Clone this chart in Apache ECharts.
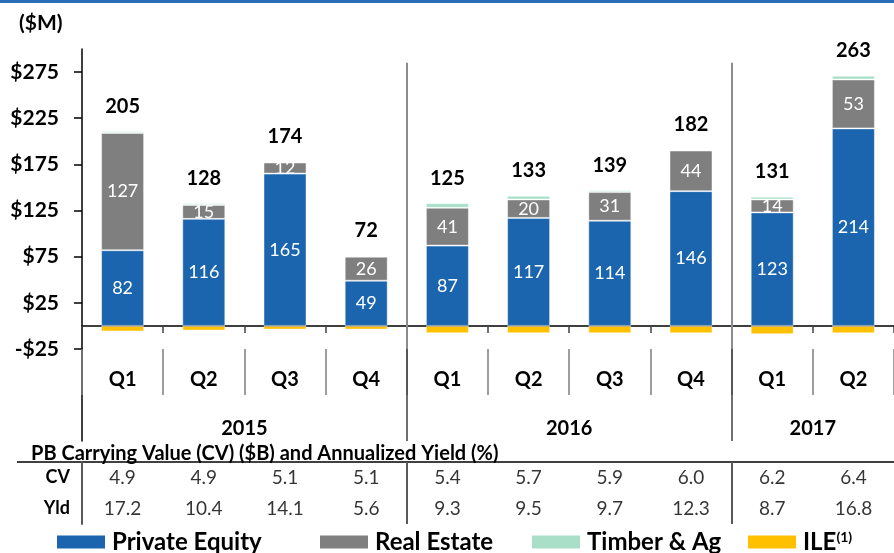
<!DOCTYPE html>
<html>
<head>
<meta charset="utf-8">
<style>
  html, body { margin: 0; padding: 0; background: #fff; }
  #chart { width: 894px; height: 553px; }
</style>
<script src="https://cdn.jsdelivr.net/npm/echarts@6/dist/echarts.min.js"></script>
</head>
<body>
<div id="chart"></div>
<script>
// ── data ──────────────────────────────────────────────────────────────────
const QUARTERS = ['Q1', 'Q2', 'Q3', 'Q4', 'Q1', 'Q2', 'Q3', 'Q4', 'Q1', 'Q2'];
const YEARS = ['2015', '2016', '2017'];
const YEAR_SPANS = [4, 4, 2];               // quarters per year group

const PRIVATE_EQUITY = [82, 116, 165, 49, 87, 117, 114, 146, 123, 214];
const REAL_ESTATE    = [127, 15, 12, 26, 41, 20, 31, 44, 14, 53];
const TIMBER_AG      = [2, 2, 1, 1, 5, 4, 2, 0, 3, 4];
const ILE            = [-6, -5, -4, -4, -8, -8, -8, -8, -9, -8];
const TOTALS         = [205, 128, 174, 72, 125, 133, 139, 182, 131, 263];

const CV_ROW  = [4.9, 4.9, 5.1, 5.1, 5.4, 5.7, 5.9, 6.0, 6.2, 6.4];
const YLD_ROW = [17.2, 10.4, 14.1, 5.6, 9.3, 9.5, 9.7, 12.3, 8.7, 16.8];
const TABLE_ROWS = ['CV', 'Yld'];

const Y_TICKS = [-25, 25, 75, 125, 175, 225, 275];

// ── derived helpers ───────────────────────────────────────────────────────
const GROUP_EDGES = [];   // boundaries between year groups (in category units)
const YEAR_CENTERS = [];
let acc = 0;
YEAR_SPANS.forEach((n, i) => {
  YEAR_CENTERS.push(acc + n / 2);
  acc += n;
  if (i < YEAR_SPANS.length - 1) GROUP_EDGES.push(acc);
});

const FONT = 'Lato, "Open Sans", sans-serif';
const C_PE = '#1a65ae';
const C_RE = '#7f7f7f';
const C_TA = '#a9dfc8';
const C_ILE = '#ffc000';
const C_SEP = '#8c8c8c';

const chart = echarts.init(document.getElementById('chart'), null, { renderer: 'canvas' });

const barBase = {
  type: 'bar',
  stack: 'total',
  xAxisIndex: 0,
  yAxisIndex: 0,
  barWidth: 43,
  itemStyle: { borderColor: 'rgba(255,255,255,0.45)', borderWidth: 1 },
};
const segLabel = {
  show: true, position: 'inside', color: '#fff',
  fontFamily: FONT, fontSize: 18,
  formatter: p => p.value,
};

function rowSeries(name, vals, rowIdx) {
  return {
    name, type: 'scatter', xAxisIndex: 4, yAxisIndex: 2,
    symbolSize: 1, itemStyle: { color: 'rgba(0,0,0,0)' },
    silent: true,
    data: vals.map((v, i) => [i, rowIdx, v]),
    label: {
      show: true, position: 'inside', color: '#000',
      fontFamily: FONT, fontSize: 19,
      formatter: p => p.value[2].toFixed(1),
    },
  };
}

function legendAt(name, left, label) {
  return {
    data: [name], left, top: 525,
    icon: 'rect', itemWidth: 48, itemHeight: 13,
    itemStyle: { borderWidth: 0 },
    selectedMode: false,
    textStyle: {
      fontFamily: FONT, fontSize: 24, fontWeight: 'bold', color: '#000',
      padding: [0, 0, 0, 2],
      rich: { sup: { fontFamily: FONT, fontSize: 14, fontWeight: 'bold', verticalAlign: 'top', color: '#000' } },
    },
    formatter: () => label,
  };
}

const option = {
  animation: false,
  backgroundColor: '#fff',
  textStyle: { fontFamily: FONT },
  title: [
    { text: '($M)', left: 14, top: 8,
      textStyle: { fontFamily: FONT, fontSize: 21, fontWeight: 'bold', color: '#000' } },
    { text: 'PB Carrying Value (CV) ($B) and Annualized Yield (%)', left: 26, top: 439,
      textStyle: { fontFamily: FONT, fontSize: 20, fontWeight: 'bold', color: '#000' } },
  ],
  legend: [
    legendAt('Private Equity', 52, 'Private Equity'),
    legendAt('Real Estate', 315, 'Real Estate'),
    legendAt('Timber & Ag', 527, 'Timber & Ag'),
    legendAt('ILE', 743, 'ILE{sup|(1)}'),
  ],
  graphic: [
    { type: 'rect', left: 0, top: 0, shape: { width: 894, height: 3 }, style: { fill: '#2a6cb6' } },
    { type: 'line', shape: { x1: 17, y1: 462, x2: 894, y2: 462 }, style: { stroke: '#000', lineWidth: 1.5 } },
  ],
  grid: [
    { left: 82, right: 0, top: 49, height: 300 },   // bars
    { left: 82, right: 0, top: 349, height: 92 },   // quarter / year labels
    { left: 82, right: 0, top: 462, height: 62 },   // CV / Yld table
  ],
  xAxis: [
    { // 0: bar categories, sits on zero
      type: 'category', gridIndex: 0, data: QUARTERS,
      axisLine: { onZero: true, lineStyle: { color: '#000', width: 1.5 } },
      axisTick: { show: true, interval: 0, length: 7, lineStyle: { color: '#404040', width: 1.5 } },
      axisLabel: { interval: 0, margin: 21, color: '#000', fontFamily: FONT, fontSize: 20, fontWeight: 'bold' },
    },
    { // 1: hidden linear axis for year separators in the plot
      type: 'value', gridIndex: 0, min: 0, max: QUARTERS.length, show: false,
    },
    { // 2: quarter separators
      type: 'category', gridIndex: 1, data: QUARTERS, position: 'top',
      axisLine: { show: false, onZero: false },
      axisTick: { show: true, inside: true, interval: 0, length: 46, lineStyle: { color: '#7f7f7f', width: 1.5 } },
      axisLabel: { show: false },
    },
    { // 3: year labels + year separators
      type: 'value', gridIndex: 1, min: 0, max: QUARTERS.length, position: 'bottom',
      axisLine: { show: false, onZero: false },
      splitLine: { show: false },
      axisTick: { show: true, inside: true, length: 92, customValues: GROUP_EDGES,
                  lineStyle: { color: '#404040', width: 1.5 } },
      axisLabel: { show: true, inside: true, margin: 2, customValues: YEAR_CENTERS,
                   formatter: v => YEARS[YEAR_CENTERS.indexOf(v)],
                   color: '#000', fontFamily: FONT, fontSize: 20, fontWeight: 'bold' },
    },
    { // 4: table columns
      type: 'category', gridIndex: 2, data: QUARTERS, show: false,
    },
    { // 5: table year separators
      type: 'value', gridIndex: 2, min: 0, max: QUARTERS.length, position: 'top',
      axisLine: { show: false, onZero: false },
      splitLine: { show: false },
      axisTick: { show: true, inside: true, length: 62, customValues: GROUP_EDGES,
                  lineStyle: { color: '#595959', width: 2 } },
      axisLabel: { show: false },
    },
  ],
  yAxis: [
    {
      type: 'value', gridIndex: 0, min: -25, max: 300,
      axisLine: { show: true, lineStyle: { color: '#000', width: 1.5 } },
      axisTick: { show: true, length: 8, customValues: Y_TICKS, lineStyle: { color: '#000', width: 1.5 } },
      axisLabel: {
        customValues: Y_TICKS, margin: 23, color: '#000',
        fontFamily: FONT, fontSize: 21, fontWeight: 'bold',
        formatter: v => (v < 0 ? '-$' + Math.abs(v) : '$' + v),
      },
      splitLine: { show: false },
    },
    {
      type: 'value', gridIndex: 1, min: 0, max: 1,
      axisLine: { show: true, onZero: false, lineStyle: { color: '#000', width: 1.5 } },
      axisTick: { show: false }, axisLabel: { show: false }, splitLine: { show: false },
    },
    {
      type: 'category', gridIndex: 2, data: TABLE_ROWS, inverse: true,
      axisLine: { show: true, onZero: false, lineStyle: { color: '#595959', width: 2 } },
      axisTick: { show: false },
      axisLabel: { margin: 12, color: '#000', fontFamily: FONT, fontSize: 18, fontWeight: 'bold' },
      splitLine: { show: false },
    },
  ],
  series: [
    Object.assign({}, barBase, {
      name: 'Private Equity', data: PRIVATE_EQUITY, color: C_PE, label: segLabel,
    }),
    Object.assign({}, barBase, {
      name: 'Real Estate', data: REAL_ESTATE, color: C_RE, label: segLabel,
    }),
    Object.assign({}, barBase, {
      name: 'Timber & Ag', data: TIMBER_AG, color: C_TA,
      label: {
        show: true, position: 'top', distance: 15, color: '#000',
        fontFamily: FONT, fontSize: 20, fontWeight: 'bold',
        formatter: p => TOTALS[p.dataIndex],
      },
    }),
    Object.assign({}, barBase, {
      name: 'ILE', data: ILE, color: C_ILE,
    }),
    {
      name: 'year-separators', type: 'line', xAxisIndex: 1, yAxisIndex: 0,
      data: [], silent: true,
      markLine: {
        silent: true, symbol: ['none', 'none'],
        label: { show: false },
        lineStyle: { color: C_SEP, width: 2, type: 'solid' },
        data: GROUP_EDGES.map(e => [{ coord: [e, 285] }, { coord: [e, -25] }]),
      },
    },
    rowSeries('CV', CV_ROW, 0),
    rowSeries('Yld', YLD_ROW, 1),
  ],
};

chart.setOption(option);
</script>
</body>
</html>
